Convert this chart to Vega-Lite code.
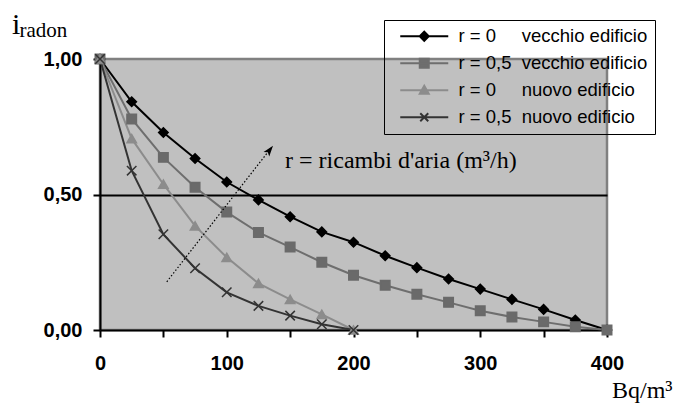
{
  "$schema": "https://vega.github.io/schema/vega-lite/v6.json",
  "width": 507,
  "height": 271,
  "autosize": "none",
  "padding": {"left": 100, "top": 59, "right": 74, "bottom": 73},
  "background": "white",
  "config": {
    "view": {"fill": "#c0c0c0", "stroke": "#808080", "strokeWidth": 2.5},
    "axis": {
      "domainColor": "black",
      "domainWidth": 2,
      "tickColor": "black",
      "tickWidth": 2,
      "tickSize": 7,
      "labelFont": "Liberation Sans",
      "labelFontWeight": "bold",
      "labelFontSize": 20,
      "labelColor": "black",
      "labelFlush": false,
      "labelOverlap": false,
      "titleColor": "black",
      "titleFont": "Liberation Serif",
      "titleFontWeight": "normal"
    }
  },
  "data": {
    "values": [
      {"serie": "r = 0 vecchio edificio", "bq": 0, "i": 1.0},
      {"serie": "r = 0 vecchio edificio", "bq": 25, "i": 0.842},
      {"serie": "r = 0 vecchio edificio", "bq": 50, "i": 0.729},
      {"serie": "r = 0 vecchio edificio", "bq": 75, "i": 0.633},
      {"serie": "r = 0 vecchio edificio", "bq": 100, "i": 0.546},
      {"serie": "r = 0 vecchio edificio", "bq": 125, "i": 0.48},
      {"serie": "r = 0 vecchio edificio", "bq": 150, "i": 0.418},
      {"serie": "r = 0 vecchio edificio", "bq": 175, "i": 0.362},
      {"serie": "r = 0 vecchio edificio", "bq": 200, "i": 0.324},
      {"serie": "r = 0 vecchio edificio", "bq": 225, "i": 0.274},
      {"serie": "r = 0 vecchio edificio", "bq": 250, "i": 0.23},
      {"serie": "r = 0 vecchio edificio", "bq": 275, "i": 0.188},
      {"serie": "r = 0 vecchio edificio", "bq": 300, "i": 0.151},
      {"serie": "r = 0 vecchio edificio", "bq": 325, "i": 0.113},
      {"serie": "r = 0 vecchio edificio", "bq": 350, "i": 0.076},
      {"serie": "r = 0 vecchio edificio", "bq": 375, "i": 0.037},
      {"serie": "r = 0 vecchio edificio", "bq": 400, "i": 0.0},
      {"serie": "r = 0,5 vecchio edificio", "bq": 0, "i": 1.0},
      {"serie": "r = 0,5 vecchio edificio", "bq": 25, "i": 0.779},
      {"serie": "r = 0,5 vecchio edificio", "bq": 50, "i": 0.637},
      {"serie": "r = 0,5 vecchio edificio", "bq": 75, "i": 0.527},
      {"serie": "r = 0,5 vecchio edificio", "bq": 100, "i": 0.435},
      {"serie": "r = 0,5 vecchio edificio", "bq": 125, "i": 0.36},
      {"serie": "r = 0,5 vecchio edificio", "bq": 150, "i": 0.306},
      {"serie": "r = 0,5 vecchio edificio", "bq": 175, "i": 0.25},
      {"serie": "r = 0,5 vecchio edificio", "bq": 200, "i": 0.202},
      {"serie": "r = 0,5 vecchio edificio", "bq": 225, "i": 0.165},
      {"serie": "r = 0,5 vecchio edificio", "bq": 250, "i": 0.132},
      {"serie": "r = 0,5 vecchio edificio", "bq": 275, "i": 0.102},
      {"serie": "r = 0,5 vecchio edificio", "bq": 300, "i": 0.071},
      {"serie": "r = 0,5 vecchio edificio", "bq": 325, "i": 0.048},
      {"serie": "r = 0,5 vecchio edificio", "bq": 350, "i": 0.03},
      {"serie": "r = 0,5 vecchio edificio", "bq": 375, "i": 0.012},
      {"serie": "r = 0,5 vecchio edificio", "bq": 400, "i": 0.0},
      {"serie": "r = 0 nuovo edificio", "bq": 0, "i": 1.0},
      {"serie": "r = 0 nuovo edificio", "bq": 25, "i": 0.706},
      {"serie": "r = 0 nuovo edificio", "bq": 50, "i": 0.538},
      {"serie": "r = 0 nuovo edificio", "bq": 75, "i": 0.384},
      {"serie": "r = 0 nuovo edificio", "bq": 100, "i": 0.268},
      {"serie": "r = 0 nuovo edificio", "bq": 125, "i": 0.172},
      {"serie": "r = 0 nuovo edificio", "bq": 150, "i": 0.113},
      {"serie": "r = 0 nuovo edificio", "bq": 175, "i": 0.058},
      {"serie": "r = 0 nuovo edificio", "bq": 200, "i": 0.0},
      {"serie": "r = 0,5 nuovo edificio", "bq": 0, "i": 1.0},
      {"serie": "r = 0,5 nuovo edificio", "bq": 25, "i": 0.588},
      {"serie": "r = 0,5 nuovo edificio", "bq": 50, "i": 0.353},
      {"serie": "r = 0,5 nuovo edificio", "bq": 75, "i": 0.228},
      {"serie": "r = 0,5 nuovo edificio", "bq": 100, "i": 0.139},
      {"serie": "r = 0,5 nuovo edificio", "bq": 125, "i": 0.089},
      {"serie": "r = 0,5 nuovo edificio", "bq": 150, "i": 0.053},
      {"serie": "r = 0,5 nuovo edificio", "bq": 175, "i": 0.021},
      {"serie": "r = 0,5 nuovo edificio", "bq": 200, "i": 0.0}
    ]
  },
  "layer": [
    {
      "mark": {"type": "line", "strokeWidth": 2},
      "encoding": {
        "x": {
          "field": "bq",
          "type": "quantitative",
          "scale": {"domain": [0, 400], "nice": false, "zero": true},
          "axis": {
            "values": [0, 25, 50, 75, 100, 125, 150, 175, 200, 225, 250, 275, 300, 325, 350, 375, 400],
            "labelExpr": "datum.value % 100 === 0 ? datum.label : ''",
            "labelPadding": 16,
            "grid": false,
            "title": "Bq/m³",
            "titleX": 511.5,
            "titleY": 67,
            "titleAlign": "left",
            "titleBaseline": "alphabetic",
            "titleFontSize": 24
          }
        },
        "y": {
          "field": "i",
          "type": "quantitative",
          "scale": {"domain": [0, 1], "nice": false},
          "axis": {
            "values": [0, 0.5, 1],
            "labelExpr": "replace(format(datum.value, '.2f'), '.', ',')",
            "labelPadding": 11,
            "grid": true,
            "gridColor": {"condition": {"test": "datum.value === 0.5", "value": "black"}, "value": "transparent"},
            "gridWidth": 2,
            "title": "i",
            "titleX": -88.5,
            "titleY": -25.7,
            "titleAngle": 0,
            "titleAlign": "left",
            "titleBaseline": "alphabetic",
            "titleFontSize": 30
          }
        },
        "color": {
          "field": "serie",
          "type": "nominal",
          "scale": {
            "domain": ["r = 0 vecchio edificio", "r = 0,5 vecchio edificio", "r = 0 nuovo edificio", "r = 0,5 nuovo edificio"],
            "range": ["#000000", "#6e6e6e", "#8c8c8c", "#333333"]
          },
          "legend": {
            "orient": "none",
            "legendX": 284,
            "legendY": -39,
            "title": null,
            "strokeColor": "black",
            "padding": 7,
            "rowPadding": 8,
            "symbolSize": 4,
            "symbolStrokeWidth": 2,
            "symbolOffset": 24,
            "labelOffset": 25,
            "labelFont": "Liberation Sans",
            "labelFontSize": 18.5,
            "labelColor": "black",
            "labelLimit": 0,
            "labelExpr": "datum.label === 'r = 0 vecchio edificio' ? 'r = 0\u00a0\u00a0\u00a0\u00a0\u00a0vecchio edificio\u00a0\u00a0' : datum.label === 'r = 0,5 vecchio edificio' ? 'r = 0,5\u00a0\u00a0vecchio edificio\u00a0\u00a0' : datum.label === 'r = 0 nuovo edificio' ? 'r = 0\u00a0\u00a0\u00a0\u00a0\u00a0nuovo edificio' : 'r = 0,5\u00a0\u00a0nuovo edificio'",
            "encode": {
              "symbols": {
                "update": {
                  "shape": {"signal": "datum.value === 'r = 0 vecchio edificio' ? 'M-24,0H24M0,-4.5L4.5,0L0,4.5L-4.5,0Z' : datum.value === 'r = 0,5 vecchio edificio' ? 'M-24,0H24M-4.5,-4.5H4.5V4.5H-4.5Z' : datum.value === 'r = 0 nuovo edificio' ? 'M-24,0H24M0,-4.5L4.5,3.5H-4.5Z' : 'M-24,0H24M-4,-4L4,4M-4,4L4,-4'"},
                  "fill": {"scale": "color", "field": "value"},
                  "stroke": {"scale": "color", "field": "value"},
                  "strokeWidth": {"value": 2},
                  "size": {"value": 4},
                  "opacity": {"value": 1}
                }
              }
            }
          }
        }
      }
    },
    {
      "mark": {"type": "point", "filled": true, "opacity": 1, "strokeWidth": 1.5, "size": 90},
      "encoding": {
        "x": {"field": "bq", "type": "quantitative"},
        "y": {"field": "i", "type": "quantitative"},
        "shape": {
          "field": "serie",
          "type": "nominal",
          "scale": {
            "domain": ["r = 0 vecchio edificio", "r = 0,5 vecchio edificio", "r = 0 nuovo edificio", "r = 0,5 nuovo edificio"],
            "range": ["diamond", "square", "triangle-up", "M-1,-1L1,1M-1,1L1,-1"]
          },
          "legend": null
        },
        "fill": {
          "field": "serie",
          "type": "nominal",
          "scale": {
            "domain": ["r = 0 vecchio edificio", "r = 0,5 vecchio edificio", "r = 0 nuovo edificio", "r = 0,5 nuovo edificio"],
            "range": ["#000000", "#6a6a6a", "#8c8c8c", "#333333"]
          },
          "legend": null
        },
        "stroke": {
          "field": "serie",
          "type": "nominal",
          "scale": {
            "domain": ["r = 0 vecchio edificio", "r = 0,5 vecchio edificio", "r = 0 nuovo edificio", "r = 0,5 nuovo edificio"],
            "range": ["#000000", "#6a6a6a", "#8c8c8c", "#333333"]
          },
          "legend": null
        }
      }
    },
    {
      "data": {"values": [{"nota": "r = ricambi d'aria (m³/h)"}]},
      "mark": {"type": "rule", "color": "black", "strokeWidth": 1.2, "strokeDash": [1.5, 2]},
      "encoding": {
        "x": {"datum": 52.7, "type": "quantitative"},
        "y": {"datum": 0.178, "type": "quantitative"},
        "x2": {"datum": 135},
        "y2": {"datum": 0.672}
      }
    },
    {
      "data": {"values": [{"nota": "r = ricambi d'aria (m³/h)"}]},
      "mark": {"type": "point", "shape": "M0,0L0.6,1.8L0,1.4L-0.6,1.8Z", "filled": true, "color": "black", "opacity": 1, "size": 144, "angle": 38},
      "encoding": {
        "x": {"datum": 136.5, "type": "quantitative"},
        "y": {"datum": 0.68, "type": "quantitative"}
      }
    },
    {
      "data": {"values": [{"nota": "r = ricambi d'aria (m³/h)"}]},
      "mark": {"type": "text", "font": "Liberation Serif", "fontSize": 24, "align": "left", "baseline": "alphabetic", "color": "black"},
      "encoding": {
        "x": {"datum": 146, "type": "quantitative"},
        "y": {"datum": 0.598, "type": "quantitative"},
        "text": {"field": "nota"}
      }
    },
    {
      "data": {"values": [{"pedice": "radon"}]},
      "mark": {"type": "text", "font": "Liberation Serif", "fontSize": 21, "align": "left", "baseline": "alphabetic", "color": "black"},
      "encoding": {
        "x": {"datum": -63.6, "type": "quantitative"},
        "y": {"datum": 1.082, "type": "quantitative"},
        "text": {"field": "pedice"}
      }
    }
  ],
  "resolve": {"legend": {"color": "independent", "shape": "independent", "fill": "independent", "stroke": "independent"}}
}
